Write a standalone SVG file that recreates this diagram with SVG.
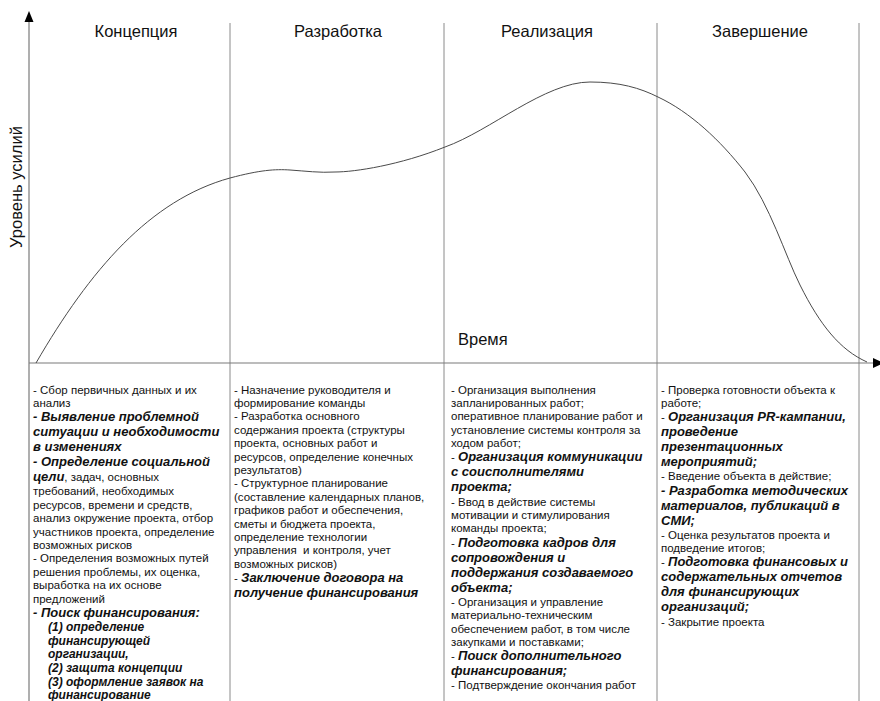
<svg xmlns="http://www.w3.org/2000/svg" width="880" height="701" viewBox="0 0 880 701">
<style>
text{font-family:"Liberation Sans",Arial,sans-serif;fill:#111}
.h{font-size:16.5px;text-anchor:middle}
.ax{font-size:16.5px}
.t{font-size:11.5px}
.b{font-size:13px;font-weight:bold;font-style:italic}
.s{font-size:12px;font-weight:bold;font-style:italic}
.n{font-weight:normal;font-style:normal;font-size:11.5px}
.div{stroke:#8a8a8a;stroke-width:1;fill:none}
.axis{stroke:#7a7a7a;stroke-width:1.2;fill:none}
.curve{stroke:#4a4a4a;stroke-width:1;fill:none}
</style>
<rect width="880" height="701" fill="#fff"/>
<g id="connectors">
  <line class="div" x1="230" y1="23" x2="230" y2="701"/>
  <line class="div" x1="444" y1="23" x2="444" y2="701"/>
  <line class="div" x1="657" y1="23" x2="657" y2="701"/>
  <line class="div" x1="859" y1="23" x2="859" y2="701"/>
  <line class="axis" x1="29" y1="20" x2="29" y2="701"/>
  <polygon points="29,11 24.5,22 33.5,22" fill="#000"/>
  <line class="axis" x1="29" y1="363" x2="874" y2="363"/>
  <polygon points="884,363 873,358 873,368" fill="#000"/>
  <path class="curve" d="M36,363 C90,270 150,200 230,178 C260,170 275,169 290,170 S320,173 335,172 C355,172 400,165 445,147 C490,131 545,82 590,82 C620,82 640,88 658,97 C690,112 720,140 745,172 C770,205 785,255 800,285 C820,325 840,350 867,362"/>
</g>
<g id="axis-labels">
  <text class="ax" transform="translate(22,187) rotate(-90)" text-anchor="middle">Уровень усилий</text>
  <text class="ax" x="458" y="345">Время</text>
</g>
<g id="phase-koncepciya">
  <text class="h" x="136" y="36.5">Концепция</text>
  <text class="t" x="33" y="393.5">- Сбор первичных данных и их</text>
  <text class="t" x="33" y="406.9">анализ</text>
  <text class="b" x="33" y="421.1">- Выявление проблемной</text>
  <text class="b" x="33" y="436.1">ситуации и необходимости</text>
  <text class="b" x="33" y="451.1">в изменениях</text>
  <text class="b" x="33" y="466.1">- Определение социальной</text>
  <text class="b" x="33" y="481.1">цели<tspan class="n">, задач, основных</tspan></text>
  <text class="t" x="33" y="495.3">требований, необходимых</text>
  <text class="t" x="33" y="508.7">ресурсов, времени и средств,</text>
  <text class="t" x="33" y="522.1">анализ окружение проекта, отбор</text>
  <text class="t" x="33" y="535.5">участников проекта, определение</text>
  <text class="t" x="33" y="548.9">возможных рисков</text>
  <text class="t" x="33" y="562.3">- Определения возможных путей</text>
  <text class="t" x="33" y="575.7">решения проблемы, их оценка,</text>
  <text class="t" x="33" y="589.1">выработка на их основе</text>
  <text class="t" x="33" y="602.5">предложений</text>
  <text class="b" x="33" y="616.7">- Поиск финансирования:</text>
  <text class="s" x="48" y="631.1">(1) определение</text>
  <text class="s" x="48" y="644.7">финансирующей</text>
  <text class="s" x="48" y="658.3">организации,</text>
  <text class="s" x="48" y="671.9">(2) защита концепции</text>
  <text class="s" x="48" y="685.5">(3) оформление заявок на</text>
  <text class="s" x="48" y="699.1">финансирование</text>
</g>
<g id="phase-razrabotka">
  <text class="h" x="338" y="36.5">Разработка</text>
  <text class="t" x="234" y="393.5">- Назначение руководителя и</text>
  <text class="t" x="234" y="406.9">формирование команды</text>
  <text class="t" x="234" y="420.3">- Разработка основного</text>
  <text class="t" x="234" y="433.7">содержания проекта (структуры</text>
  <text class="t" x="234" y="447.1">проекта, основных работ и</text>
  <text class="t" x="234" y="460.5">ресурсов, определение конечных</text>
  <text class="t" x="234" y="473.9">результатов)</text>
  <text class="t" x="234" y="487.3">- Структурное планирование</text>
  <text class="t" x="234" y="500.7">(составление календарных планов,</text>
  <text class="t" x="234" y="514.1">графиков работ и обеспечения,</text>
  <text class="t" x="234" y="527.5">сметы и бюджета проекта,</text>
  <text class="t" x="234" y="540.9">определение технологии</text>
  <text class="t" x="234" y="554.3" xml:space="preserve">управления  и контроля, учет</text>
  <text class="t" x="234" y="567.7">возможных рисков)</text>
  <text class="b" x="234" y="581.9"><tspan class="n">- </tspan>Заключение договора на</text>
  <text class="b" x="234" y="596.9">получение финансирования</text>
</g>
<g id="phase-realizaciya">
  <text class="h" x="547" y="36.5">Реализация</text>
  <text class="t" x="451" y="393.5">- Организация выполнения</text>
  <text class="t" x="451" y="406.9">запланированных работ;</text>
  <text class="t" x="451" y="420.3">оперативное планирование работ и</text>
  <text class="t" x="451" y="433.7">установление системы контроля за</text>
  <text class="t" x="451" y="447.1">ходом работ;</text>
  <text class="b" x="451" y="461.3"><tspan class="n">- </tspan>Организация коммуникации</text>
  <text class="b" x="451" y="476.3">с соисполнителями</text>
  <text class="b" x="451" y="491.3">проекта;</text>
  <text class="t" x="451" y="505.5">- Ввод в действие системы</text>
  <text class="t" x="451" y="518.9">мотивации и стимулирования</text>
  <text class="t" x="451" y="532.3">команды проекта;</text>
  <text class="b" x="451" y="546.5"><tspan class="n">- </tspan>Подготовка кадров для</text>
  <text class="b" x="451" y="561.5">сопровождения и</text>
  <text class="b" x="451" y="576.5">поддержания создаваемого</text>
  <text class="b" x="451" y="591.5">объекта;</text>
  <text class="t" x="451" y="605.7">- Организация и управление</text>
  <text class="t" x="451" y="619.1">материально-техническим</text>
  <text class="t" x="451" y="632.5">обеспечением работ, в том числе</text>
  <text class="t" x="451" y="645.9">закупками и поставками;</text>
  <text class="b" x="451" y="660.1"><tspan class="n">- </tspan>Поиск дополнительного</text>
  <text class="b" x="451" y="675.1">финансирования;</text>
  <text class="t" x="451" y="689.3">- Подтверждение окончания работ</text>
</g>
<g id="phase-zavershenie">
  <text class="h" x="760" y="36.5">Завершение</text>
  <text class="t" x="661" y="393.5">- Проверка готовности объекта к</text>
  <text class="t" x="661" y="406.9">работе;</text>
  <text class="b" x="661" y="421.1"><tspan class="n">- </tspan>Организация PR-кампании,</text>
  <text class="b" x="661" y="436.1">проведение</text>
  <text class="b" x="661" y="451.1">презентационных</text>
  <text class="b" x="661" y="466.1">мероприятий;</text>
  <text class="t" x="661" y="480.3">- Введение объекта в действие;</text>
  <text class="b" x="661" y="494.5">- Разработка методических</text>
  <text class="b" x="661" y="509.5">материалов, публикаций в</text>
  <text class="b" x="661" y="524.5">СМИ;</text>
  <text class="t" x="661" y="538.7">- Оценка результатов проекта и</text>
  <text class="t" x="661" y="552.1">подведение итогов;</text>
  <text class="b" x="661" y="566.3"><tspan class="n">- </tspan>Подготовка финансовых и</text>
  <text class="b" x="661" y="581.3">содержательных отчетов</text>
  <text class="b" x="661" y="596.3">для финансирующих</text>
  <text class="b" x="661" y="611.3">организаций;</text>
  <text class="t" x="661" y="625.5">- Закрытие проекта</text>
</g>
</svg>
